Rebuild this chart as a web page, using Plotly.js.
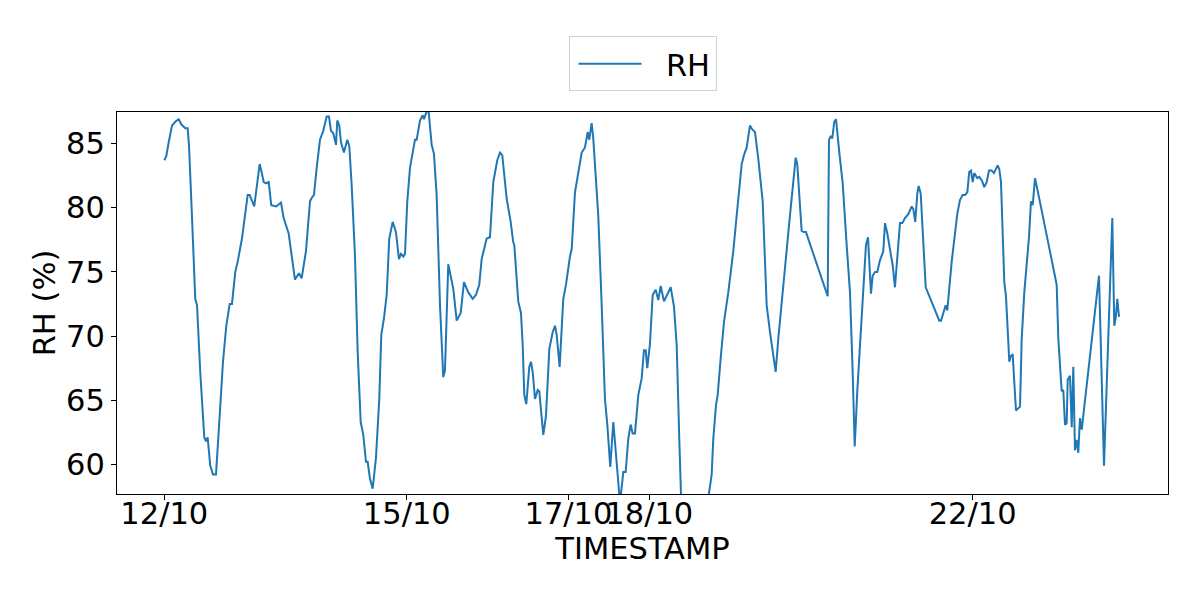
<!DOCTYPE html>
<html>
<head>
<meta charset="utf-8">
<script src="https://cdn.plot.ly/plotly-3.0.1.min.js"></script>
<style>html,body{margin:0;padding:0;background:#fff}#chart{width:1200px;height:600px}</style>
</head>
<body>
<div id="chart"></div>
<script>
const timestamps = [
'2023-10-12 00:00','2023-10-12 00:35','2023-10-12 01:19','2023-10-12 02:17','2023-10-12 03:16','2023-10-12 04:17','2023-10-12 05:03','2023-10-12 06:14','2023-10-12 06:57','2023-10-12 07:20',
'2023-10-12 08:13','2023-10-12 09:12','2023-10-12 09:43','2023-10-12 10:41','2023-10-12 11:53','2023-10-12 12:23','2023-10-12 12:53','2023-10-12 13:39','2023-10-12 14:28','2023-10-12 15:21',
'2023-10-12 16:09','2023-10-12 17:26','2023-10-12 18:25','2023-10-12 19:25','2023-10-12 20:06','2023-10-12 21:05','2023-10-12 21:48','2023-10-12 23:04',
'2023-10-13 00:46','2023-10-13 01:21','2023-10-13 02:43','2023-10-13 03:31','2023-10-13 04:19','2023-10-13 04:48','2023-10-13 05:31','2023-10-13 06:12','2023-10-13 07:00','2023-10-13 07:46',
'2023-10-13 09:15','2023-10-13 10:39','2023-10-13 11:27','2023-10-13 12:56','2023-10-13 13:37','2023-10-13 14:48','2023-10-13 15:59','2023-10-13 16:47','2023-10-13 18:04','2023-10-13 19:16',
'2023-10-13 19:51','2023-10-13 20:27','2023-10-13 21:15','2023-10-13 22:14','2023-10-13 23:13',
'2023-10-14 00:13','2023-10-14 00:54','2023-10-14 01:29','2023-10-14 02:11','2023-10-14 02:59','2023-10-14 03:22','2023-10-14 03:57','2023-10-14 04:28','2023-10-14 05:21','2023-10-14 06:20',
'2023-10-14 06:56','2023-10-14 07:38','2023-10-14 08:37','2023-10-14 09:25','2023-10-14 10:19','2023-10-14 11:05','2023-10-14 11:53','2023-10-14 12:23','2023-10-14 13:04','2023-10-14 13:52',
'2023-10-14 14:51','2023-10-14 15:50','2023-10-14 16:26','2023-10-14 17:14','2023-10-14 18:02','2023-10-14 18:48','2023-10-14 19:49','2023-10-14 20:47','2023-10-14 21:41','2023-10-14 22:17',
'2023-10-14 22:58','2023-10-14 23:28',
'2023-10-15 00:09','2023-10-15 00:57','2023-10-15 02:26','2023-10-15 02:56','2023-10-15 03:55','2023-10-15 04:43','2023-10-15 05:06','2023-10-15 05:55','2023-10-15 06:23','2023-10-15 07:23',
'2023-10-15 08:04','2023-10-15 08:52','2023-10-15 09:52','2023-10-15 10:50','2023-10-15 11:20','2023-10-15 12:19','2023-10-15 13:48','2023-10-15 14:49','2023-10-15 16:00','2023-10-15 16:59',
'2023-10-15 18:16','2023-10-15 19:34','2023-10-15 20:32','2023-10-15 21:31','2023-10-15 22:14','2023-10-15 23:43',
'2023-10-16 00:42','2023-10-16 01:41','2023-10-16 02:52','2023-10-16 03:40','2023-10-16 04:21','2023-10-16 05:40','2023-10-16 06:51','2023-10-16 07:37','2023-10-16 07:55','2023-10-16 09:06',
'2023-10-16 09:54','2023-10-16 10:25','2023-10-16 10:53','2023-10-16 11:29','2023-10-16 12:22','2023-10-16 12:52','2023-10-16 13:23','2023-10-16 14:04','2023-10-16 14:52','2023-10-16 15:20',
'2023-10-16 16:32','2023-10-16 17:20','2023-10-16 18:19','2023-10-16 19:19','2023-10-16 20:00','2023-10-16 20:30','2023-10-16 21:23','2023-10-16 22:28','2023-10-16 23:16',
'2023-10-17 00:27','2023-10-17 00:58','2023-10-17 01:56','2023-10-17 02:37','2023-10-17 03:56','2023-10-17 04:54','2023-10-17 05:43','2023-10-17 06:11','2023-10-17 06:53','2023-10-17 07:22',
'2023-10-17 08:10','2023-10-17 08:51','2023-10-17 09:52','2023-10-17 10:50','2023-10-17 11:32','2023-10-17 12:25','2023-10-17 13:19','2023-10-17 14:01','2023-10-17 14:37','2023-10-17 15:18',
'2023-10-17 16:17','2023-10-17 16:59','2023-10-17 17:46','2023-10-17 18:28','2023-10-17 19:04','2023-10-17 19:45','2023-10-17 20:44','2023-10-17 21:44','2023-10-17 22:25','2023-10-17 22:56',
'2023-10-17 23:24',
'2023-10-18 00:12','2023-10-18 01:00','2023-10-18 01:54','2023-10-18 02:40','2023-10-18 03:23','2023-10-18 04:22','2023-10-18 06:21','2023-10-18 07:20','2023-10-18 08:08','2023-10-18 08:54',
'2023-10-18 10:53','2023-10-18 18:31','2023-10-18 19:00','2023-10-18 19:48','2023-10-18 20:18','2023-10-18 21:12','2023-10-18 22:11','2023-10-18 23:27',
'2023-10-19 00:28','2023-10-19 00:56','2023-10-19 01:57','2023-10-19 02:38','2023-10-19 03:26','2023-10-19 04:07','2023-10-19 04:55','2023-10-19 05:53','2023-10-19 06:35','2023-10-19 07:23',
'2023-10-19 08:22','2023-10-19 09:40','2023-10-19 10:21','2023-10-19 10:51','2023-10-19 11:50','2023-10-19 12:49','2023-10-19 13:31','2023-10-19 14:18','2023-10-19 15:19','2023-10-19 16:17',
'2023-10-19 17:46','2023-10-19 18:45','2023-10-19 19:28','2023-10-19 19:56','2023-10-19 20:44','2023-10-19 21:14','2023-10-19 21:56','2023-10-19 22:31',
'2023-10-20 04:58','2023-10-20 05:21','2023-10-20 05:56','2023-10-20 06:20','2023-10-20 06:55','2023-10-20 07:26','2023-10-20 08:25','2023-10-20 09:25','2023-10-20 10:36','2023-10-20 11:35',
'2023-10-20 12:23','2023-10-20 12:59','2023-10-20 13:45','2023-10-20 15:04','2023-10-20 16:20','2023-10-20 16:56','2023-10-20 17:49','2023-10-20 18:19','2023-10-20 19:01','2023-10-20 19:41',
'2023-10-20 20:29','2023-10-20 21:28','2023-10-20 21:59','2023-10-20 22:40',
'2023-10-21 00:16','2023-10-21 00:56','2023-10-21 01:38','2023-10-21 02:26','2023-10-21 03:07','2023-10-21 03:55','2023-10-21 04:53','2023-10-21 05:54','2023-10-21 06:23','2023-10-21 06:58',
'2023-10-21 07:34','2023-10-21 07:59','2023-10-21 08:35','2023-10-21 10:04','2023-10-21 14:06','2023-10-21 14:36','2023-10-21 16:00','2023-10-21 16:28','2023-10-21 17:47','2023-10-21 18:28',
'2023-10-21 19:26','2023-10-21 20:14','2023-10-21 21:02','2023-10-21 21:44','2023-10-21 22:25','2023-10-21 23:00','2023-10-21 23:31',
'2023-10-22 00:01','2023-10-22 00:29','2023-10-22 01:23','2023-10-22 01:58','2023-10-22 02:46','2023-10-22 03:27','2023-10-22 04:10','2023-10-22 04:51','2023-10-22 05:39','2023-10-22 06:20',
'2023-10-22 07:26','2023-10-22 07:55','2023-10-22 08:25','2023-10-22 08:55','2023-10-22 09:24','2023-10-22 09:54','2023-10-22 10:25','2023-10-22 10:53','2023-10-22 11:18','2023-10-22 11:53',
'2023-10-22 12:22','2023-10-22 12:52','2023-10-22 14:04','2023-10-22 14:34','2023-10-22 15:20','2023-10-22 16:03','2023-10-22 16:44','2023-10-22 17:19','2023-10-22 17:50','2023-10-22 18:31',
'2023-10-22 19:29',
'2023-10-23 00:57','2023-10-23 01:26','2023-10-23 02:26','2023-10-23 02:55','2023-10-23 03:25','2023-10-23 03:55','2023-10-23 04:13','2023-10-23 04:54','2023-10-23 05:25','2023-10-23 05:53',
'2023-10-23 06:23','2023-10-23 06:53','2023-10-23 07:22','2023-10-23 07:52','2023-10-23 08:23','2023-10-23 13:31','2023-10-23 15:00','2023-10-23 16:16','2023-10-23 17:28','2023-10-23 18:03',
'2023-10-23 18:28','2023-10-23 18:57','2023-10-23 19:27'
];
const rhValues = [
83.7,84.0,85.1,86.4,86.7,86.9,86.5,86.2,86.2,84.9,
79.4,72.9,72.4,67.2,62.1,61.8,62.1,59.9,59.2,59.2,
62.5,68.0,70.8,72.5,72.5,75.0,75.8,77.6,
81.0,81.0,80.1,81.9,83.4,82.9,82.0,81.9,82.0,80.2,
80.1,80.4,79.2,78.0,76.8,74.4,74.9,74.5,76.6,80.5,
80.8,81.0,83.1,85.3,86.0,
87.1,87.1,86.0,85.8,84.9,86.8,86.4,85.1,84.3,85.3,
84.8,81.8,76.3,68.8,63.3,62.3,60.2,60.2,58.9,58.1,
60.5,65.1,70.1,71.4,73.2,77.6,78.9,78.1,76.0,76.4,
76.2,76.4,
80.5,83.1,85.3,85.3,86.8,87.2,86.9,87.5,87.8,84.9,
84.2,81.0,72.4,66.8,67.3,75.6,73.7,71.2,71.8,74.2,
73.4,72.9,73.2,74.0,76.0,77.6,
77.7,82.0,83.7,84.3,84.1,80.7,78.9,77.3,77.1,72.7,
71.8,69.3,65.4,64.7,67.6,68.0,67.2,65.1,65.8,65.7,
62.3,63.8,69.0,70.3,70.8,70.1,67.6,72.9,74.0,
76.2,76.8,81.2,82.3,84.3,84.7,85.9,85.3,86.6,85.4,
82.0,79.4,72.4,65.1,63.1,59.8,63.3,61.2,58.9,57.0,
59.4,59.4,62.0,63.1,62.4,62.4,65.4,66.7,68.9,68.9,
67.5,
69.4,73.2,73.6,72.8,73.9,72.7,73.8,72.3,69.3,62.0,
45.2,59.2,62.0,64.6,65.4,68.3,71.1,73.4,
75.5,76.6,79.4,81.2,83.4,84.1,84.7,86.4,86.1,85.9,
83.8,80.5,76.3,72.4,70.3,68.4,67.2,69.8,72.4,75.3,
79.4,82.0,83.9,83.4,80.2,78.2,78.1,78.1,
73.1,85.3,85.6,85.4,86.7,86.9,84.3,81.9,77.1,73.4,
67.2,61.4,65.7,71.1,77.1,77.7,73.3,74.7,75.0,75.0,
75.9,76.6,78.8,78.0,
75.5,73.8,76.0,78.8,78.8,79.2,79.5,80.1,79.9,78.9,
81.1,81.7,81.1,73.8,71.2,71.2,72.4,72.0,75.8,77.3,
79.5,80.6,81.0,81.0,81.2,82.8,82.9,
82.0,82.7,82.3,82.4,82.1,81.6,82.0,82.9,82.9,82.7,
83.3,83.0,82.0,77.1,74.2,73.1,70.6,68.0,68.4,68.6,
66.4,64.2,64.5,69.8,73.4,75.5,77.7,80.5,80.2,82.3,
81.1,
74.0,69.8,65.7,65.8,63.1,63.2,66.6,66.9,62.9,67.6,
61.1,61.9,60.9,63.6,62.7,74.7,59.9,69.8,79.2,70.8,
71.4,72.9,71.5
];
const tickDates = ['2023-10-12','2023-10-15','2023-10-17','2023-10-18','2023-10-22'];
const tickLabels = ['12/10','15/10','17/10','18/10','22/10'];
const yTickValues = [60, 65, 70, 75, 80, 85];
const seriesName = 'RH';

const font = {family: 'DejaVu Sans, sans-serif', size: 30.5, color: '#000'};
const trace = {
  x: timestamps, y: rhValues, type: 'scatter', mode: 'lines',
  name: '\u00a0\u00a0' + seriesName,
  line: {color: '#1f77b4', width: 2}, showlegend: true
};
const layout = {
  width: 1200, height: 600,
  paper_bgcolor: '#fff', plot_bgcolor: '#fff',
  margin: {l: 117, r: 32, t: 112, b: 106, pad: 0},
  font: font,
  showlegend: true,
  legend: {
    orientation: 'h', x: 0.5, xanchor: 'center', y: 1.198, yanchor: 'top',
    bordercolor: '#d0d0d0', borderwidth: 1, bgcolor: '#fff',
    font: font, itemwidth: 63, indentation: 4
  },
  xaxis: {
    type: 'date', range: ['2023-10-11 09:58', '2023-10-24 10:00'],
    tickmode: 'array', tickvals: tickDates, ticktext: tickLabels, tickangle: 0,
    ticks: 'outside', ticklen: 5, tickwidth: 1, tickcolor: '#000',
    ticklabelstandoff: -13,
    showline: true, linecolor: '#000', linewidth: 1, mirror: true,
    showgrid: false, zeroline: false, tickfont: font,
    title: {text: 'TIMESTAMP', font: font, standoff: 0}
  },
  yaxis: {
    range: [57.69, 87.46], tickmode: 'array', tickvals: yTickValues,
    ticks: 'outside', ticklen: 5, tickwidth: 1, tickcolor: '#000',
    showline: true, linecolor: '#000', linewidth: 1, mirror: true,
    showgrid: false, zeroline: false, tickfont: font,
    title: {text: 'RH (%)', font: font, standoff: 1}
  }
};
Plotly.newPlot('chart', [trace], layout, {displayModeBar: false, staticPlot: true});
</script>
</body>
</html>
